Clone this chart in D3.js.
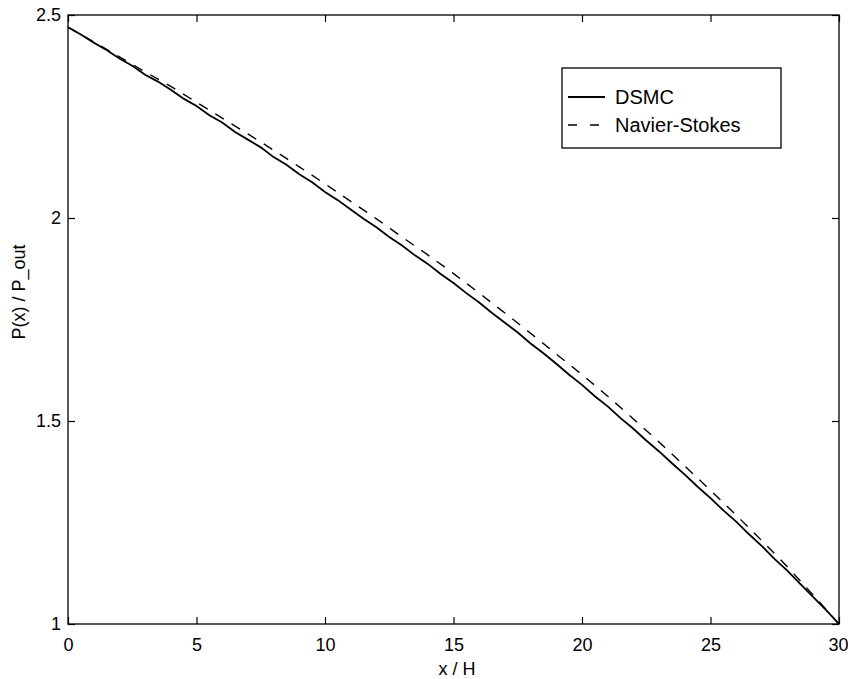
<!DOCTYPE html>
<html><head><meta charset="utf-8">
<script src="https://cdn.jsdelivr.net/npm/d3@7"></script>
<style>body{margin:0;background:#fff}svg{display:block}text{font-family:"Liberation Sans",Arial,sans-serif;fill:#000}</style>
</head><body>
<svg id="c" width="848" height="679"></svg>
<script>
const xTicks = [0,5,10,15,20,25,30];
const yTicks = [1,1.5,2,2.5];
const yTickLabels = ["1","1.5","2","2.5"];
const dsmcX = [0,0.5,1,1.5,2,2.5,3,3.5,4,4.5,5,5.5,6,6.5,7,7.5,8,8.5,9,9.5,10,10.5,11,11.5,12,12.5,13,13.5,14,14.5,15,15.5,16,16.5,17,17.5,18,18.5,19,19.5,20,20.5,21,21.5,22,22.5,23,23.5,24,24.5,25,25.5,26,26.5,27,27.5,28,28.5,29,29.5,30];
const dsmcY = [2.470,2.452,2.432,2.414,2.393,2.375,2.353,2.336,2.316,2.294,2.276,2.253,2.235,2.212,2.193,2.174,2.150,2.131,2.108,2.088,2.064,2.044,2.021,1.998,1.977,1.953,1.932,1.908,1.887,1.862,1.840,1.815,1.792,1.766,1.742,1.718,1.691,1.667,1.641,1.614,1.589,1.561,1.536,1.507,1.481,1.452,1.425,1.396,1.368,1.338,1.310,1.280,1.252,1.221,1.192,1.160,1.131,1.098,1.066,1.034,1.000];
const nsX = [0,1,2,3,4,5,6,7,8,9,10,11,12,13,14,15,16,17,18,19,20,21,22,23,24,25,26,27,28,29,30];
const nsY = [2.470,2.434,2.397,2.360,2.324,2.285,2.246,2.207,2.167,2.126,2.084,2.041,1.998,1.953,1.909,1.863,1.815,1.766,1.716,1.665,1.614,1.561,1.505,1.448,1.389,1.329,1.268,1.205,1.140,1.071,1.000];
const seriesNames = ["DSMC","Navier-Stokes"];

const svg = d3.select("#c");
const L=68,R=839,T=15,B=624;
const x = d3.scaleLinear().domain([0,30]).range([L,R]);
const y = d3.scaleLinear().domain([1,2.5]).range([B,T]);
const tk=7, fs=18;

svg.append("rect").attr("x",L).attr("y",T).attr("width",R-L).attr("height",B-T)
  .attr("fill","none").attr("stroke","#000").attr("stroke-width",1.3);

const bx = svg.append("g").attr("transform",`translate(0,${B})`)
  .call(d3.axisBottom(x).tickValues(xTicks).tickSizeInner(-tk).tickSizeOuter(0).tickPadding(14).tickFormat(d3.format("d")));
const tx = svg.append("g").attr("transform",`translate(0,${T})`)
  .call(d3.axisTop(x).tickValues(xTicks).tickSizeInner(-tk).tickSizeOuter(0).tickFormat(""));
const ly = svg.append("g").attr("transform",`translate(${L},0)`)
  .call(d3.axisLeft(y).tickValues(yTicks).tickSizeInner(-tk).tickSizeOuter(0).tickPadding(7).tickFormat((d,i)=>yTickLabels[i]));
const ry = svg.append("g").attr("transform",`translate(${R},0)`)
  .call(d3.axisRight(y).tickValues(yTicks).tickSizeInner(-tk).tickSizeOuter(0).tickFormat(""));
[bx,tx,ly,ry].forEach(g=>{
  g.select(".domain").remove();
  g.selectAll("line").attr("stroke","#000").attr("stroke-width",1.2);
  g.selectAll("text").attr("font-size",fs).attr("font-family","Liberation Sans, Arial, sans-serif").attr("fill","#000");
});
bx.selectAll("text").filter(d=>d===30).attr("text-anchor","end").attr("dx",9);

const line = d3.line().x(d=>x(d[0])).y(d=>y(d[1]));
svg.append("path").datum(nsX.map((v,i)=>[v,nsY[i]]))
  .attr("d",line.curve(d3.curveMonotoneX)).attr("fill","none").attr("stroke","#000")
  .attr("stroke-width",1.4).attr("stroke-dasharray","10,9");
svg.append("path").datum(dsmcX.map((v,i)=>[v,dsmcY[i]]))
  .attr("d",d3.line().x(d=>x(d[0])).y(d=>y(d[1]))).attr("fill","none").attr("stroke","#000")
  .attr("stroke-width",1.8);

svg.append("text").attr("x",457).attr("y",675).attr("text-anchor","middle").attr("font-size",18).text("x / H");
svg.append("text").attr("transform","translate(25,292) rotate(-90)").attr("text-anchor","middle").attr("font-size",18).text("P(x) / P_out");

const lg = svg.append("g");
lg.append("rect").attr("x",562).attr("y",68).attr("width",219).attr("height",80)
  .attr("fill","#fff").attr("stroke","#000").attr("stroke-width",1.3);
const lys=[97,125];
seriesNames.forEach((n,i)=>{
  lg.append("line").attr("x1",568).attr("x2",605).attr("y1",lys[i]).attr("y2",lys[i])
    .attr("stroke","#000").attr("stroke-width",i?1.4:1.8).attr("stroke-dasharray",i?"9,13":null);
  lg.append("text").attr("x",615).attr("y",lys[i]+7).attr("font-size",20).text(n);
});
</script>
</body></html>
